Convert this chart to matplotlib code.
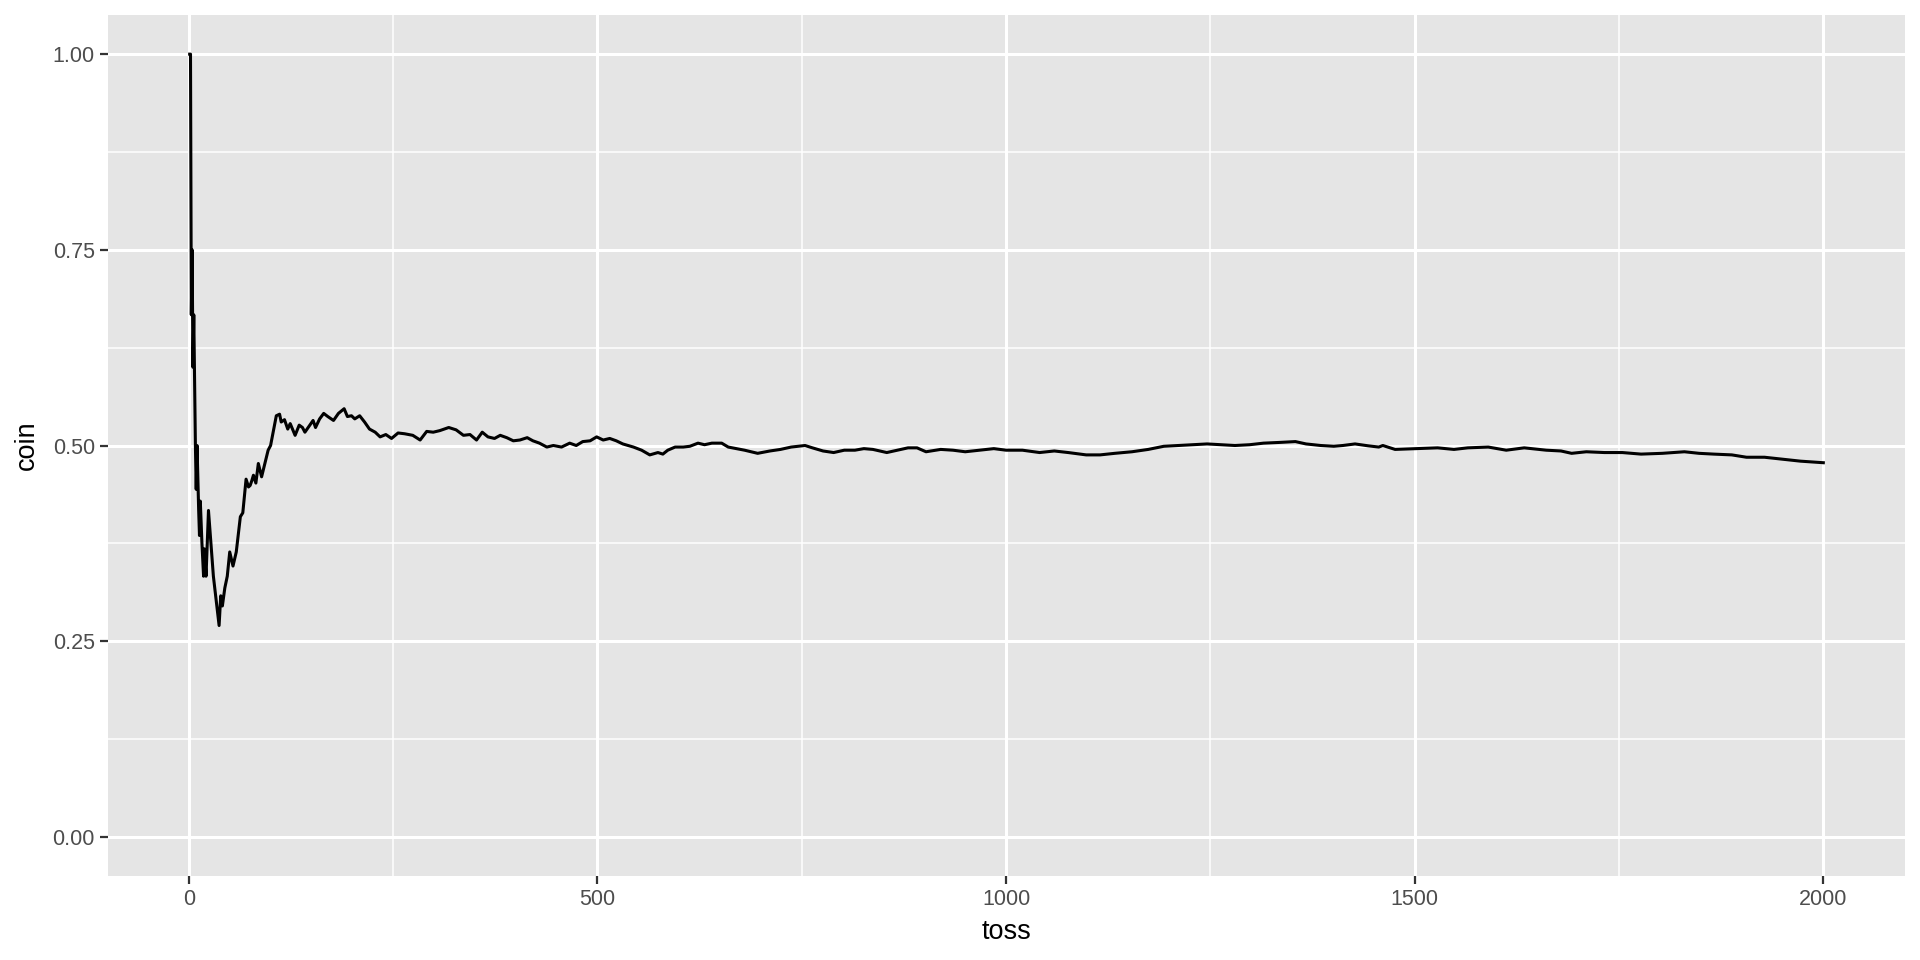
import matplotlib
matplotlib.use("Agg")
import matplotlib.pyplot as plt
from matplotlib.ticker import MultipleLocator

# running proportion of heads
toss = [1, 2, 3, 4, 5, 6, 8, 9, 10, 12, 13, 14, 16, 17, 18, 19, 21, 24, 30, 37,
        39, 41, 44, 47, 50, 54, 58, 63, 66, 70, 73, 75, 77, 79, 82, 85, 89, 97, 100,
        107, 111, 113, 117, 121, 124, 130, 135, 139, 142, 148, 152, 155, 160, 165,
        170, 177, 183, 190, 194, 199, 203, 209, 215, 221, 228, 234, 241, 248, 256,
        264, 274, 283, 291, 299, 307, 318, 327, 336, 344, 352, 359, 366, 374, 381,
        389, 397, 405, 414, 421, 429, 438, 446, 456, 466, 474, 482, 491, 499, 507,
        515, 523, 531, 544, 554, 564, 574, 580, 586, 595, 605, 613, 623, 631, 640,
        652, 660, 670, 680, 696, 711, 724, 737, 754, 763, 776, 789, 802, 815, 826,
        837, 854, 867, 880, 891, 902, 920, 935, 950, 967, 985, 1000, 1020, 1041,
        1059, 1076, 1098, 1115, 1133, 1154, 1174, 1193, 1211, 1228, 1246, 1263,
        1280, 1298, 1315, 1336, 1354, 1367, 1385, 1401, 1412, 1427, 1443, 1456,
        1461, 1476, 1501, 1528, 1548, 1565, 1590, 1612, 1634, 1661, 1679, 1692,
        1710, 1732, 1754, 1777, 1803, 1830, 1848, 1866, 1888, 1906, 1928, 1955,
        1972, 2000]
coin = [1.0, 1.0, 0.667, 0.75, 0.6, 0.667, 0.5, 0.444, 0.5, 0.417, 0.385, 0.429,
        0.375, 0.353, 0.333, 0.368, 0.333, 0.417, 0.333, 0.27, 0.308, 0.295, 0.318,
        0.333, 0.364, 0.346, 0.364, 0.409, 0.414, 0.457, 0.447, 0.449, 0.455, 0.462,
        0.452, 0.477, 0.46, 0.494, 0.5, 0.538, 0.54, 0.53, 0.533, 0.521, 0.528,
        0.513, 0.526, 0.523, 0.517, 0.526, 0.532, 0.523, 0.534, 0.541, 0.537, 0.532,
        0.541, 0.547, 0.537, 0.538, 0.534, 0.538, 0.53, 0.521, 0.517, 0.511, 0.514,
        0.509, 0.516, 0.515, 0.513, 0.507, 0.518, 0.517, 0.519, 0.523, 0.52, 0.513,
        0.514, 0.507, 0.517, 0.511, 0.509, 0.513, 0.51, 0.506, 0.507, 0.51, 0.506,
        0.503, 0.498, 0.5, 0.498, 0.503, 0.5, 0.505, 0.506, 0.511, 0.507, 0.509,
        0.506, 0.502, 0.498, 0.494, 0.488, 0.491, 0.489, 0.494, 0.498, 0.498, 0.499,
        0.503, 0.501, 0.503, 0.503, 0.498, 0.496, 0.494, 0.49, 0.493, 0.495, 0.498,
        0.5, 0.497, 0.493, 0.491, 0.494, 0.494, 0.496, 0.495, 0.491, 0.494, 0.497,
        0.497, 0.492, 0.495, 0.494, 0.492, 0.494, 0.496, 0.494, 0.494, 0.491, 0.493,
        0.491, 0.488, 0.488, 0.49, 0.492, 0.495, 0.499, 0.5, 0.501, 0.502, 0.501,
        0.5, 0.501, 0.503, 0.504, 0.505, 0.502, 0.5, 0.499, 0.5, 0.502, 0.4996,
        0.498, 0.5, 0.495, 0.496, 0.497, 0.495, 0.497, 0.498, 0.494, 0.497, 0.494,
        0.493, 0.49, 0.492, 0.491, 0.491, 0.489, 0.49, 0.492, 0.49, 0.489, 0.488,
        0.485, 0.485, 0.482, 0.48, 0.478]

x_ticks = [0, 500, 1000, 1500, 2000]
y_ticks = [0.0, 0.25, 0.5, 0.75, 1.0]
y_labels = ["0.00", "0.25", "0.50", "0.75", "1.00"]

plt.rcParams['font.family'] = ['Liberation Sans', 'DejaVu Sans']

fig = plt.figure(figsize=(19.2, 9.6), dpi=100)
ax = fig.add_axes([108 / 1920, 1 - 876 / 960, 1797 / 1920, 861 / 960])

ax.set_facecolor('#E5E5E5')
for s in ax.spines.values():
    s.set_visible(False)

ax.xaxis.set_minor_locator(MultipleLocator(250))
ax.yaxis.set_minor_locator(MultipleLocator(0.125))
ax.grid(which='major', color='white', linewidth=2.2)
ax.grid(which='minor', color='white', linewidth=1.1)
ax.set_axisbelow(True)

ax.plot(toss, coin, color='black', linewidth=2.2, solid_joinstyle='round')

xpad = (max(toss) - min(toss)) * 0.05
ax.set_xlim(min(toss) - xpad, max(toss) + xpad)
ax.set_ylim(-0.05, 1.05)
ax.set_xticks(x_ticks)
ax.set_xticklabels([str(v) for v in x_ticks])
ax.set_yticks(y_ticks)
ax.set_yticklabels(y_labels)

ax.tick_params(which='major', length=5.5, width=1.6, color='#333333',
               labelsize=15.5, labelcolor='#4D4D4D', pad=4)
ax.tick_params(which='minor', length=0)

ax.set_xlabel('toss', fontsize=19.5, color='black', labelpad=6)
ax.set_ylabel('coin', fontsize=19.5, color='black', labelpad=9)

fig.savefig('out.png', dpi=100)
